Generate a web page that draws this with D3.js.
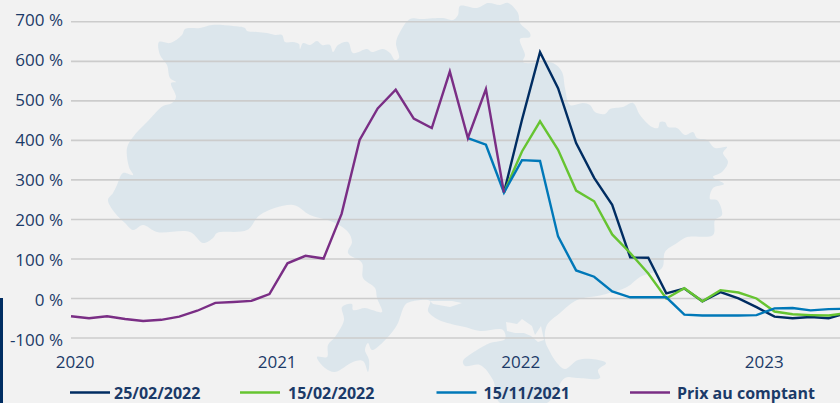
<!DOCTYPE html>
<html>
<head>
<meta charset="utf-8">
<script src="https://cdn.jsdelivr.net/npm/d3@7"></script>
<style>
  html, body { margin: 0; padding: 0; background: #f2f2f2; }
  svg { display: block; font-family: "Open Sans", sans-serif; }
  .tick text { fill: #1b3a68; font-size: 17px; font-family: "Open Sans", sans-serif; }
</style>
</head>
<body>
<script>
// months since Jan 2020, one value per month
var spot = [-45, -50, -45, -52, -57, -54, -46, -31, -11, -9, -6, 11, 89, 108, 101, 214, 401, 481, 528, 455, 431, 574, 406, 530, 268];
var feb25 = [268, 452, 623, 532, 393, 305, 237, 104, 103, 13, 25, -7, 16, 0, -22, -46, -50, -47, -50, -37];
var feb15 = [268, 372, 448, 376, 273, 246, 162, 115, 63, 0, 26, -7, 21, 15, 0, -33, -40, -42, -43, -37];
var nov15 = [406, 389, 268, 350, 348, 157, 71, 55, 18, 3, 3, 3, -41, -43, -43, -43, -42, -25, -24, -30, -27, -26];

var yTicks = [-100, 0, 100, 200, 300, 400, 500, 600, 700];
var yearLabels = ["2020", "2021", "2022", "2023"];
var yearMonths = [0.2, 11.4, 24.9, 38.4];

var seriesNames = ["25/02/2022", "15/02/2022", "15/11/2021", "Prix au comptant"];
var seriesStart = [24, 24, 22, 0];
var seriesValues = [feb25, feb15, nov15, spot];
var seriesColors = ["#002d62", "#66c431", "#0078b8", "#7a2e85"];

// background silhouette, traced in page pixels
var land = [[159,42],[170,43],[182,35],[185,29],[200,28],[212,25],[233,26],[245,28],[247,31],[257,32],[267,33],[275,35],[282,35],[285,42],[293,42],[299,44],[300,49],[303,43],[310,45],[317,41],[322,45],[330,45],[333,52],[338,45],[348,42],[353,53],[367,49],[372,52],[383,49],[390,53],[395,60],[399,58],[396,43],[400,32],[410,19],[420,19],[443,18],[453,20],[458,15],[460,6],[477,8],[488,3],[500,5],[508,3],[518,13],[520,23],[530,33],[530,37],[520,39],[525,55],[523,62],[553,63],[562,72],[565,88],[570,105],[583,103],[590,105],[595,112],[605,114],[610,109],[623,107],[633,103],[640,115],[652,127],[658,128],[660,122],[665,122],[668,127],[677,128],[685,135],[693,132],[697,138],[707,140],[715,148],[727,147],[723,153],[728,162],[722,172],[713,177],[724,184],[713,188],[710,199],[717,200],[722,215],[715,220],[713,235],[687,237],[677,243],[665,252],[662,268],[640,277],[627,287],[602,295],[577,300],[560,313],[547,325],[545,340],[550,352],[557,363],[565,369],[578,360],[592,359],[606,363],[598,370],[600,378],[577,378],[565,378],[547,403],[500,403],[493,380],[480,365],[465,366],[463,361],[477,350],[490,343],[505,339],[503,330],[480,331],[465,327],[455,325],[437,319],[428,311],[430,301],[410,302],[405,305],[397,325],[387,338],[372,350],[368,343],[365,350],[369,360],[368,372],[363,361],[353,362],[335,372],[325,368],[317,357],[327,357],[328,345],[335,337],[344,320],[342,307],[352,304],[353,310],[365,308],[372,310],[382,312],[377,298],[375,288],[363,278],[362,263],[348,253],[352,242],[348,232],[333,222],[310,215],[293,205],[260,215],[247,230],[217,233],[213,238],[203,243],[190,232],[157,232],[143,225],[133,230],[125,223],[115,213],[108,200],[113,193],[117,185],[123,173],[133,175],[129,167],[127,148],[133,137],[147,122],[163,106],[172,103],[176,97],[171,83],[176,82],[170,78],[167,65],[160,55]];
var sivash = [[506,322],[517,324],[522,319],[532,326],[535,335],[541,326],[544,340],[538,342],[531,336],[524,333],[515,333],[507,331]];
var dnipro = [[430,301],[452,301],[462,303],[450,307],[433,304]];

var width = 840, height = 403;

var x = d3.scaleLinear().domain([0, 43]).range([71, 846.7]);
var y = d3.scaleLinear().domain([-100, 700]).range([338, 21.8]);
// the labels are spaced a touch wider than the gridlines
var yLabel = d3.scaleLinear().domain([-100, 700]).range([340, 20.3]);

var svg = d3.select("body").append("svg")
  .attr("width", width)
  .attr("height", height);

svg.append("rect")
  .attr("width", width)
  .attr("height", height)
  .attr("fill", "#f2f2f2");

// map first, everything else sits on it
svg.append("path")
  .attr("d", d3.line().curve(d3.curveCatmullRomClosed)(land))
  .attr("fill", "#dce6ec");

svg.selectAll(".water")
  .data([sivash, dnipro])
  .enter().append("path")
  .attr("class", "water")
  .attr("d", d3.line().curve(d3.curveLinearClosed))
  .attr("fill", "#f2f2f2");

// left accent bar
svg.append("rect")
  .attr("x", 0)
  .attr("y", 298)
  .attr("width", 3)
  .attr("height", 105)
  .attr("fill", "#002d62");

svg.selectAll(".grid")
  .data(yTicks)
  .enter().append("line")
  .attr("class", "grid")
  .attr("x1", 71)
  .attr("x2", width)
  .attr("y1", function(d) { return y(d); })
  .attr("y2", function(d) { return y(d); })
  .attr("stroke", "#cccccc")
  .attr("stroke-width", 1.6);

var yAxis = d3.axisLeft(yLabel)
  .tickValues(yTicks)
  .tickSize(0)
  .tickPadding(8)
  .tickFormat(function(d) { return d + " %"; });

svg.append("g")
  .attr("transform", "translate(71,0)")
  .call(yAxis)
  .call(function(g) { g.select(".domain").remove(); });

var xAxis = d3.axisBottom(x)
  .tickValues(yearMonths)
  .tickSize(0)
  .tickPadding(0)
  .tickFormat(function(d, i) { return yearLabels[i]; });

svg.append("g")
  .attr("transform", "translate(0,356)")
  .call(xAxis)
  .call(function(g) { g.select(".domain").remove(); });

svg.append("clipPath")
  .attr("id", "plot")
  .append("rect")
  .attr("x", 0)
  .attr("y", 0)
  .attr("width", width)
  .attr("height", height);

var line = d3.line()
  .x(function(d) { return x(d[0]); })
  .y(function(d) { return y(d[1]); });

seriesValues.forEach(function(values, s) {
  var pts = values.map(function(v, i) { return [seriesStart[s] + i, v]; });
  svg.append("path")
    .datum(pts)
    .attr("d", line)
    .attr("fill", "none")
    .attr("stroke", seriesColors[s])
    .attr("stroke-width", 2.4)
    .attr("clip-path", "url(#plot)");
});

// legend
var legendX = [70, 240, 436.5, 630];
var legend = svg.selectAll(".legend")
  .data(seriesNames)
  .enter().append("g")
  .attr("class", "legend")
  .attr("transform", function(d, i) { return "translate(" + legendX[i] + ",392.5)"; });

legend.append("line")
  .attr("x1", 0)
  .attr("x2", 40)
  .attr("stroke", function(d, i) { return seriesColors[i]; })
  .attr("stroke-width", 2.4);

legend.append("text")
  .attr("x", function(d, i) { return i == 1 ? 48 : i == 0 ? 44 : 47; })
  .attr("y", 1)
  .attr("dy", ".35em")
  .attr("fill", "#1b3a68")
  .style("font-size", "16px")
  .style("font-weight", 700)
  .text(function(d) { return d; });
</script>
</body>
</html>
